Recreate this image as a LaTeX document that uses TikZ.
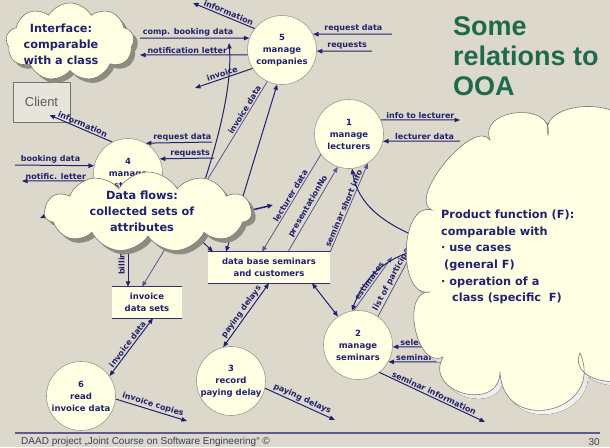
\documentclass[tikz,border=0pt]{standalone}
\usepackage{fontspec}
\setmainfont{DejaVu Sans}
\newfontfamily\arialfam{Liberation Sans}
\usetikzlibrary{arrows.meta,shapes.symbols,shadows}

\definecolor{bgc}{HTML}{DCD9CC}
\definecolor{cream}{HTML}{FFFFE4}
\definecolor{navy}{HTML}{22226C}
\definecolor{flowgray}{HTML}{56568C}
\definecolor{rimgray}{HTML}{9A988C}
\definecolor{shade}{HTML}{8E8C82}
\definecolor{titlegreen}{HTML}{1F6A4C}
\definecolor{footc}{HTML}{3C3C5C}
\definecolor{footrule}{HTML}{5C5C8C}
\definecolor{clientc}{HTML}{5A5A5A}

% outline of the large "product function" cloud, one Bezier puff at a time
\newcommand\pfoutline{(490,140)
  .. controls (477,108) and (555,101) .. (548,135)
  .. controls (537,99) and (634,96) .. (625,132)
  .. controls (700,150) and (700,340) .. (640,360)
  .. controls (646,393) and (566,386) .. (580,353)
  .. controls (606,412) and (503,437) .. (500,372)
  .. controls (499.5,413) and (423,393) .. (443,357)
  .. controls (416,370) and (400,290) .. (430,292)
  .. controls (397,299) and (399,201) .. (432,210)
  .. controls (406,199) and (474,117) .. (490,140) -- cycle}

\tikzset{
  flow/.style={draw=navy, line width=1pt, -{Triangle[length=5.5pt,width=4.4pt]}},
  flowl/.style={flow, draw=flowgray, line width=0.8pt},
  flowboth/.style={flow, {Triangle[length=5.5pt,width=4.4pt]}-{Triangle[length=5.5pt,width=4.4pt]}},
  lab/.style={text=navy, font=\bfseries\fontsize{8}{9}\selectfont, inner sep=1.2pt},
  proc/.style={circle, draw=rimgray, line width=0.6pt, fill=cream, minimum size=69pt,
    inner sep=0pt, align=center, text=navy, font=\bfseries\fontsize{8.5}{12}\selectfont},
  store/.style={fill=cream, inner sep=0pt, align=center, text=navy,
    font=\bfseries\fontsize{8.5}{11.5}\selectfont},
  storeline/.style={draw=navy!85!gray, line width=1.2pt},
  cloudy/.style={cloud, cloud puffs=#1, cloud puff arc=120, cloud ignores aspect,
    draw=rimgray!80!black, line width=0.6pt, fill=cream, inner sep=0pt,
    drop shadow={shadow xshift=4pt, shadow yshift=-4pt, fill=shade, opacity=1}},
  cloudtxt/.style={align=center, text=navy, font=\bfseries\fontsize{11.3}{16}\selectfont, inner sep=0pt},
}

\begin{document}
\begin{tikzpicture}[x=1pt,y=-1pt]
\useasboundingbox (0,0) rectangle (610,447);
\fill[bgc] (0,0) rectangle (610,447);

% title
\node[anchor=north west, inner sep=0pt, align=left, text=titlegreen,
  font=\arialfam\bfseries\fontsize{27}{30}\selectfont] (title) at (453,16) {Some\\relations to\\OOA};

% terminator
\node[draw=gray!90!black, line width=0.8pt, fill=bgc!70!white, minimum width=57pt, minimum height=40pt,
  inner sep=0pt, text=clientc, font=\arialfam\fontsize{13}{15}\selectfont] (client) at (41.5,102) {Client};

% processes
\node[proc] (p5) at (282,50) {5\\manage\\companies};
\node[proc] (p1) at (349,134) {1\\manage\\lecturers};
\node[proc] (p4) at (128,173) {4\\manage\\customers};
\node[proc] (p2) at (358,345) {2\\manage\\seminars};
\node[proc] (p3) at (231,381) {3\\record\\paying delay};
\node[proc] (p6) at (81,396) {6\\read\\invoice data};

% data stores
\node[store, minimum width=122pt, minimum height=31pt] (db) at (269,267.5) {data base seminars\\and customers};
\node[store, minimum width=70pt, minimum height=31pt] (inv) at (147,302.5) {invoice\\data sets};
\draw[storeline] (db.north west) -- (db.north east);
\draw[storeline] (db.south west) -- (db.south east);
\draw[storeline] (inv.north west) -- (inv.north east);
\draw[storeline] (inv.south west) -- (inv.south east);

% free ends of flows
\coordinate (infoTop) at (193,3);
\coordinate (compIn) at (140,38);
\coordinate (notifOut) at (140,55);
\coordinate (invoiceOut) at (195,88);
\coordinate (reqDataIn5) at (392,34);
\coordinate (reqIn5) at (372,51);
\coordinate (curveLow) at (200,195);
\coordinate (curveTop) at (229,43);
\coordinate (reqDataIn4) at (212,142);
\coordinate (reqIn4) at (214,158);
\coordinate (bookIn) at (15,165);
\coordinate (notOut4) at (22,181);
\coordinate (leftOut4) at (40,218);
\coordinate (thickFrom) at (235,214);
\coordinate (thickTo) at (273,205);
\coordinate (infoLectOut) at (460,120);
\coordinate (lectIn) at (460,141);
\coordinate (pfToLect) at (425,240);
\coordinate (estOut) at (392,257);
\coordinate (pfToSem) at (410,252);
\coordinate (partOut) at (424,230);
\coordinate (selIn) at (445,347);
\coordinate (semIn) at (445,362);
\coordinate (semInfoOut) at (485,422);
\coordinate (payOut) at (335,420);
\coordinate (copiesOut) at (187,421);

% flows around process 5
\draw[flow] (p5.142) -- node[lab,sloped,above,pos=0.45]{information} (infoTop);
\draw[flow] (compIn) -- node[lab,above,pos=0.44]{comp. booking data} (p5.160);
\draw[flow] (p5.188) -- node[lab,above,pos=0.56]{notification letter} (notifOut);
\draw[flow] (p5.212) -- node[lab,sloped,above,pos=0.5]{invoice} (invoiceOut);
\draw[flowl] (p5.245) -- node[lab,sloped,above,pos=0.15]{invoice data} ([xshift=-5pt]inv.north);
\draw[flowboth] ([xshift=-43pt]db.north) -- (p5.262);
\draw[flow] (reqDataIn5) -- node[lab,above,pos=0.49]{request data} (p5.27);
\draw[flow] (reqIn5) -- node[lab,above,pos=0.45]{requests} (p5.358);
\draw[flow] (curveLow) .. controls (222,130) and (232,80) .. (curveTop);

% flows around process 4
\draw[flow] (p4.117) -- node[lab,sloped,above,pos=0.5]{information} ([xshift=8pt,yshift=-13pt]client.center);
\draw[flow] (reqDataIn4) -- node[lab,above,pos=0.45]{request data} (p4.59);
\draw[flow] (reqIn4) -- node[lab,above,pos=0.44]{requests} (p4.24);
\draw[flow] (bookIn) -- node[lab,above,pos=0.45]{booking data} (p4.168);
\draw[flow] (p4.193) -- node[lab,above,pos=0.53]{notific. letter} (notOut4);
\draw[flow] (p4.220) -- (leftOut4);
\draw[flow] (p4.south) -- node[lab,rotate=90,anchor=south,pos=0.67]{billing} ([xshift=-19pt]inv.north);
\draw[flow] (p4.-40) -- ([xshift=-56pt]db.north);
\draw[flow, line width=1.5pt] (thickFrom) -- (thickTo);

% flows around process 1
\draw[flow] (p1.24) -- node[lab,above,pos=0.5]{info to lecturer} (infoLectOut);
\draw[flow] (lectIn) -- node[lab,above,pos=0.46]{lecturer data} (p1.-12);
\draw[flowl] (p1.216) -- node[lab,sloped,above,pos=0.45]{lecturer data} ([xshift=-7pt]db.north);
\draw[flowl] ([xshift=19pt]db.north) -- node[lab,sloped,above,pos=0.5]{presentationNo} (p1.251);
\draw[flowl] (db.north east) -- node[lab,sloped,above,pos=0.47]{seminar short info} (p1.-57);
\draw[flow] (pfToLect) .. controls (385,225) and (358,205) .. (p1.-85);

% flows around process 2
\draw[flowboth] ([xshift=43pt]db.south) -- (p2.125);
\draw[flowl] (p2.97) -- node[lab,sloped,above,pos=0.5]{estimates} (estOut);
\draw[flow] (pfToSem) .. controls (380,262) and (362,282) .. (p2.100);
\draw[flowl] (p2.55) -- node[lab,sloped,above,pos=0.47]{list of participants} (partOut);
\draw[flow] (selIn) -- (p2.-3) node[lab,anchor=south west,xshift=6pt]{selection};
\draw[flow] (semIn) -- (p2.-29) node[lab,anchor=south west,xshift=6pt]{seminar data};
\draw[flow] (p2.-52) -- node[lab,sloped,above,pos=0.5]{seminar information} (semInfoOut);

% flows around process 3
\draw[flowboth] (db.south) -- node[lab,sloped,above,pos=0.5]{paying delays} (p3.103);
\draw[flow] (p3.-12) -- node[lab,sloped,above,pos=0.5]{paying delays} (payOut);

% flows around process 6
\draw[flowboth] ([xshift=6pt]inv.south) -- node[lab,sloped,above,pos=0.5]{invoice data} (p6.35);
\draw[flow] (p6.-5) -- node[lab,sloped,above,pos=0.5]{invoice copies} (copiesOut);

% comment clouds
\node[cloudy=9, minimum width=128pt, minimum height=78pt] (ifc) at (70,42) {};
\node[cloudtxt] (ifctext) at (61,44) {Interface:\\comparable\\with a class};

\node[cloudy=11, minimum width=207pt, minimum height=80pt] (dfc) at (148,212) {};
\node[cloudtxt] (dfctext) at (142,211) {Data flows:\\collected sets of\\attributes};

\fill[shade, shift={(4,4)}] \pfoutline;
\filldraw[fill=cream, draw=rimgray!80!black, line width=0.6pt] \pfoutline;
\node[anchor=north west, align=left, text=navy, inner sep=0pt,
  font=\bfseries\fontsize{11.3}{16.6}\selectfont] (pfctext) at (441,210)
  {Product function (F):\\comparable with\\· use cases\\\hspace{3pt}(general F)\\· operation of a\\\hspace{11pt}class (specific\ \ F)};

% footer
\draw[footrule, line width=1.3pt] (15,433) -- (600,433);
\node[anchor=west, inner sep=0pt, text=footc, font=\arialfam\fontsize{10}{12}\selectfont] (foot) at (21,442)
  {DAAD project „Joint Course on Software Engineering“ ©};
\node[anchor=east, inner sep=0pt, text=footc, font=\arialfam\fontsize{10}{12}\selectfont] (pageno) at (600,442) {30};
\end{tikzpicture}
\end{document}
